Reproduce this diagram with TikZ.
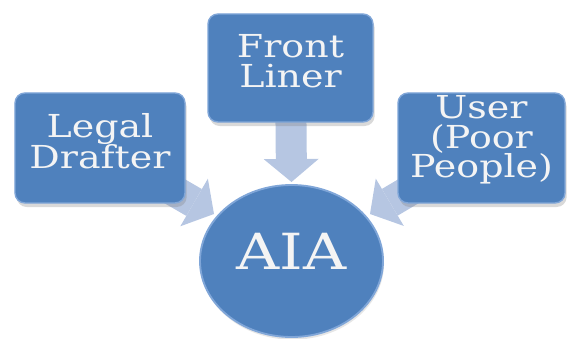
\documentclass[tikz,border=0pt]{standalone}
\usepackage{fontspec}
\setmainfont[FakeStretch=1.2]{DejaVu Serif}
\usetikzlibrary{shapes.geometric,shadows,arrows.meta,backgrounds}
\definecolor{boxblue}{RGB}{79,129,189}
\definecolor{rimblue}{RGB}{128,166,216}
\definecolor{arrowblue}{RGB}{182,198,226}
\definecolor{txtwhite}{RGB}{244,244,244}

\begin{document}
\begin{tikzpicture}[x=0.03cm, y=-0.03cm]
        \tikzstyle{every node}=[inner sep=0pt]
        \tikzstyle{box}=[rectangle, rounded corners=0.3cm, fill=boxblue, draw=rimblue, line width=1.2pt, minimum width=5.1cm, minimum height=3.3cm, drop shadow={shadow xshift=0.05cm, shadow yshift=-0.12cm, opacity=0.3}]
        \tikzstyle{hub}=[ellipse, fill=boxblue, draw=rimblue, line width=1.6pt, minimum width=5.49cm, minimum height=4.56cm, drop shadow={shadow xshift=0.03cm, shadow yshift=-0.08cm, opacity=0.2}]
        \tikzstyle{lbl}=[text=txtwhite, align=center, font=\fontsize{27}{25}\selectfont, yshift=0.2cm]
        \tikzstyle{feed}=[arrowblue, line width=0.93cm, -{Triangle[length=0.69cm, width=1.65cm, line width=0pt]}]
        \useasboundingbox (0,0) rectangle (567,338);
        % boxes and hub
        \node[box] (legal) at (100,148) {};
        \node[box, minimum width=4.95cm, minimum height=3.24cm] (front) at (290.5,68) {};
        \node[box, minimum width=5.01cm] (user) at (481.5,148) {};
        \node[hub] (aia) at (291.5,261) {};
        \node[lbl, font=\fontsize{27}{27}\selectfont] (legaltext) at (legal.center) {Legal\\Drafter};
        \node[lbl] (fronttext) at (front.center) {Front\\Liner};
        \node[lbl, yshift=0.04cm] (usertext) at (user.center) {User\\(Poor\\People)};
        \node[lbl, font=\fontsize{42.5}{50}\selectfont, yshift=0.09cm] (aiatext) at (aia.center) {AIA};
        % arrow tips
        \coordinate (legaltip) at (214,214);
        \coordinate (fronttip) at (291.5,182);
        \coordinate (usertip) at (370,214);
        \begin{scope}[on background layer]
            \draw[feed] (legal.center) -- (legaltip);
            \draw[feed] (front.center) -- (fronttip);
            \draw[feed] (user.center) -- (usertip);
        \end{scope}
    \end{tikzpicture}
\end{document}
